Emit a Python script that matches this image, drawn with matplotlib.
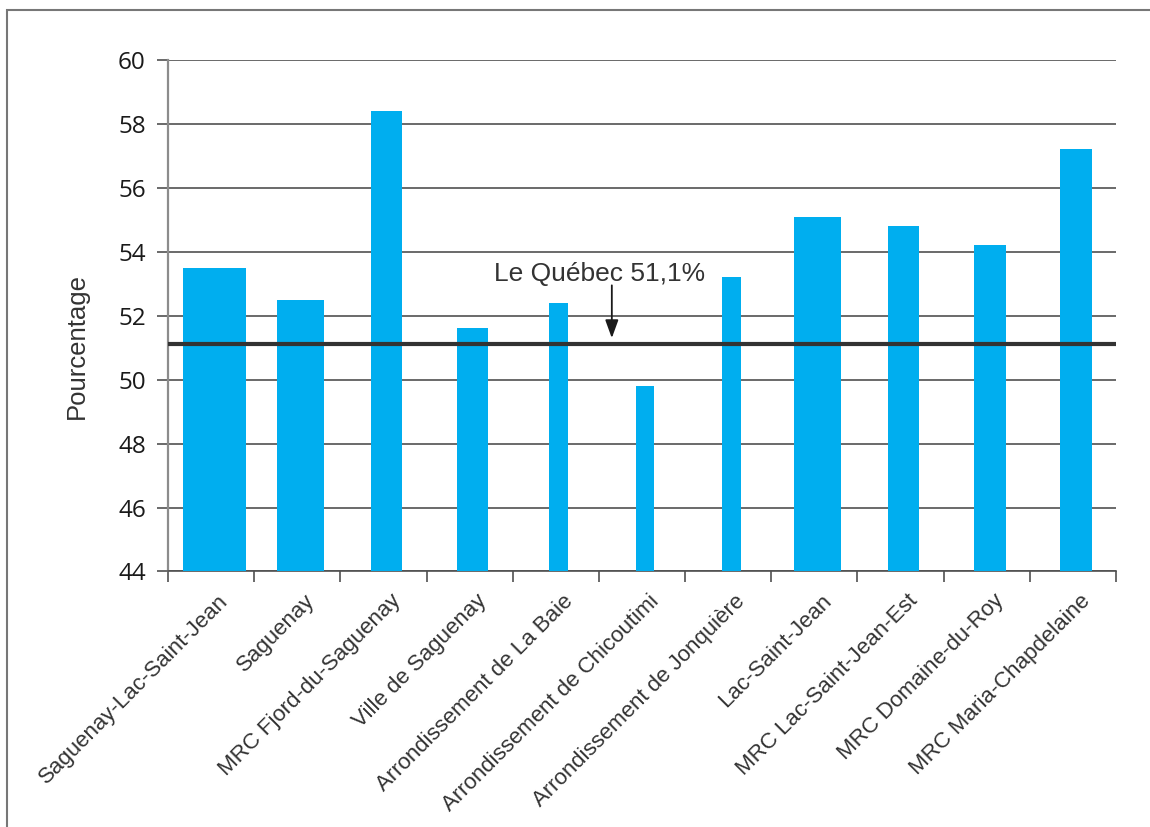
import matplotlib
matplotlib.use("Agg")
import matplotlib.pyplot as plt
import matplotlib.transforms as mtransforms
from matplotlib.patches import Rectangle
import numpy as np

# data
regions = ["Saguenay-Lac-Saint-Jean", "Saguenay", "MRC Fjord-du-Saguenay",
           "Ville de Saguenay", "Arrondissement de La Baie",
           "Arrondissement de Chicoutimi", "Arrondissement de Jonquière",
           "Lac-Saint-Jean", "MRC Lac-Saint-Jean-Est", "MRC Domaine-du-Roy",
           "MRC Maria-Chapdelaine"]
pourcentage = [53.5, 52.5, 58.4, 51.6, 52.4, 49.8, 53.2, 55.1, 54.8, 54.2, 57.2]
quebec = 51.1
yticks = [44, 46, 48, 50, 52, 54, 56, 58, 60]

# bars in the source have different widths depending on the level
bar_widths = [0.73, 0.545, 0.37, 0.36, 0.22, 0.22, 0.22, 0.545, 0.36, 0.37, 0.37]

fig = plt.figure(figsize=(11.5, 8.27), dpi=100)
ax = fig.add_axes([0.1461, 0.309, 0.8243, 0.6185])

x = np.arange(len(regions))
ax.bar(x + 0.035, [v - 44 for v in pourcentage], bottom=44, width=bar_widths,
       color="#00aeef", zorder=3)

ax.set_xlim(-0.5, len(regions) - 0.5)
ax.set_ylim(44, 60)
ax.set_yticks(yticks)
ax.set_yticklabels([str(t) for t in yticks], fontsize=17.5, family="Open Sans",
                   color="#1a1a1a")
ax.yaxis.grid(True, color="#505050", linewidth=1.2, zorder=1)
ax.tick_params(axis="y", length=8, width=1.2, color="#505050", pad=8)

# category boundaries as ticks, labels at centres
ax.set_xticks(x)
ax.set_xticks(np.arange(len(regions) + 1) - 0.5, minor=True)
ax.tick_params(axis="x", which="major", length=0, pad=19)
ax.tick_params(axis="x", which="minor", length=8, width=1.2, color="#505050")
ax.set_xticklabels(regions, rotation=45, ha="right", va="center",
                   rotation_mode="anchor", fontsize=16,
                   family="Liberation Sans", color="#333333")
offset = mtransforms.ScaledTranslation(10 / 72, 0, fig.dpi_scale_trans)
for lab in ax.get_xticklabels():
    lab.set_transform(lab.get_transform() + offset)

for side in ["top", "right"]:
    ax.spines[side].set_visible(False)
ax.spines["left"].set_color("#8c8c8c")
ax.spines["left"].set_linewidth(1.6)
ax.spines["bottom"].set_color("#505050")
ax.spines["bottom"].set_linewidth(1.2)

ax.set_ylabel("Pourcentage", fontsize=18.5, family="Liberation Sans",
              color="#333333")
ax.yaxis.set_label_coords(-0.083, 0.44)

# Quebec reference line
ax.axhline(quebec, color="#333333", linewidth=3, zorder=4)
ax.annotate("", xy=(4.65, quebec + 0.2), xytext=(4.65, quebec + 1.85),
            arrowprops=dict(arrowstyle="-|>,head_width=0.4,head_length=1.1",
                            color="#1a1a1a", lw=1.3, shrinkA=0, shrinkB=0),
            zorder=5)
ax.text(4.51, quebec + 2.22, "Le Québec 51,1%", ha="center", va="center",
        fontsize=19, family="Liberation Sans", color="#333333", zorder=5)

# outer frame of the figure
fig.patches.append(Rectangle((0.006, -0.1), 1.2, 1.088, transform=fig.transFigure,
                             fill=False, edgecolor="#777777", linewidth=1.5))

fig.savefig("out.png", dpi=100)
